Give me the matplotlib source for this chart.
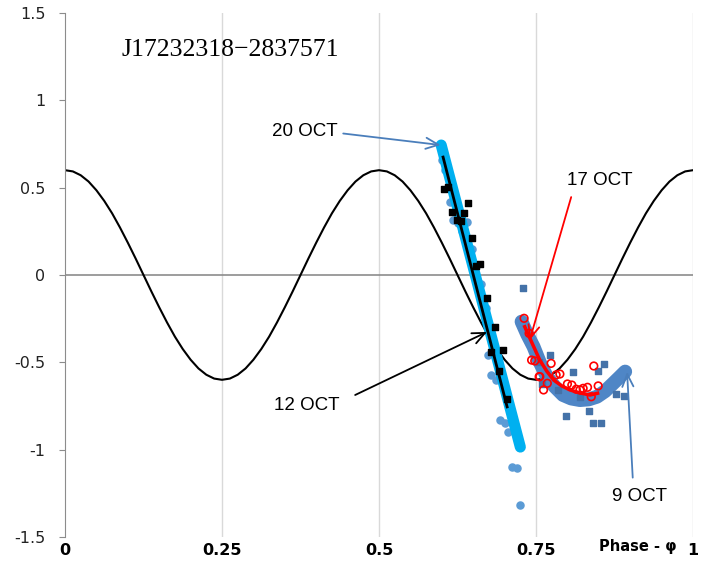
"""
plot.py — phase-folded light curve of J17232318-2837571, four observing nights
plus the reference sinusoid. Writes out.png (716x582).
"""
import numpy as np
import matplotlib
matplotlib.use("Agg")
import matplotlib.pyplot as plt
from matplotlib.transforms import blended_transform_factory

# ── reference sinusoid, sampled every 0.0125 in phase ──
sin_y = [0.600, 0.593, 0.571, 0.535, 0.485, 0.424, 0.353, 0.272, 0.185, 0.094,
         0.000, -0.094, -0.185, -0.272, -0.353, -0.424, -0.485, -0.535, -0.571, -0.593,
         -0.600, -0.593, -0.571, -0.535, -0.485, -0.424, -0.353, -0.272, -0.185, -0.094,
         0.000, 0.094, 0.185, 0.272, 0.353, 0.424, 0.485, 0.535, 0.571, 0.593,
         0.600, 0.593, 0.571, 0.535, 0.485, 0.424, 0.353, 0.272, 0.185, 0.094,
         0.000, -0.094, -0.185, -0.272, -0.353, -0.424, -0.485, -0.535, -0.571, -0.593,
         -0.600, -0.593, -0.571, -0.535, -0.485, -0.424, -0.353, -0.272, -0.185, -0.094,
         0.000, 0.094, 0.185, 0.272, 0.353, 0.424, 0.485, 0.535, 0.571, 0.593,
         0.600]
sin_x = np.linspace(0, 1, len(sin_y))

# ── 20 OCT: points + fitted line ──
oct20_x = [0.600, 0.601, 0.605, 0.610, 0.613, 0.618, 0.625, 0.632, 0.640, 0.648, 0.655,
           0.662, 0.671, 0.674, 0.679, 0.686, 0.693, 0.700, 0.705, 0.711, 0.719, 0.725]
oct20_y = [0.72, 0.66, 0.60, 0.50, 0.42, 0.315, 0.30, 0.25, 0.305, 0.15, 0.05,
           -0.05, -0.19, -0.458, -0.57, -0.60, -0.83, -0.85, -0.897, -1.097, -1.103, -1.317]
oct20_fit_x = [0.599, 0.725]
oct20_fit_y = [0.744, -0.985]

# ── 12 OCT: points + fitted line ──
oct12_x = [0.604, 0.610, 0.617, 0.624, 0.630, 0.635, 0.641, 0.648, 0.654, 0.661,
           0.672, 0.679, 0.685, 0.691, 0.698, 0.704]
oct12_y = [0.49, 0.505, 0.36, 0.315, 0.31, 0.357, 0.41, 0.214, 0.052, 0.061,
           -0.13, -0.44, -0.30, -0.55, -0.43, -0.71]
oct12_fit_x = [0.602, 0.704]
oct12_fit_y = [0.675, -0.755]

# ── 17 OCT: points + fitted curve ──
oct17_x = [0.731, 0.739, 0.743, 0.748, 0.755, 0.756, 0.762, 0.768, 0.774, 0.782, 0.788,
           0.800, 0.807, 0.814, 0.820, 0.825, 0.832, 0.838, 0.842, 0.849]
oct17_y = [-0.248, -0.334, -0.487, -0.492, -0.582, -0.582, -0.658, -0.62, -0.506, -0.572,
           -0.567, -0.624, -0.63, -0.654, -0.658, -0.649, -0.643, -0.697, -0.521, -0.635]
oct17_fit_x = [0.732, 0.745, 0.756, 0.767, 0.778, 0.791, 0.804, 0.820, 0.836, 0.848]
oct17_fit_y = [-0.296, -0.40, -0.487, -0.55, -0.601, -0.635, -0.658, -0.675, -0.687, -0.677]

# ── 9 OCT: points + fitted curve ──
oct09_x = [0.730, 0.760, 0.772, 0.798, 0.809, 0.834, 0.840, 0.848, 0.853, 0.859,
           0.877, 0.890, 0.755, 0.785, 0.820]
oct09_y = [-0.076, -0.624, -0.458, -0.807, -0.553, -0.777, -0.845, -0.548, -0.845, -0.509,
           -0.681, -0.693, -0.50, -0.66, -0.70]
oct09_fit_x = [0.727, 0.736, 0.746, 0.756, 0.767, 0.780, 0.793, 0.806, 0.820, 0.834,
               0.847, 0.860, 0.873, 0.883, 0.892]
oct09_fit_y = [-0.267, -0.34, -0.41, -0.50, -0.58, -0.64, -0.687, -0.707, -0.716, -0.712,
               -0.697, -0.665, -0.62, -0.585, -0.553]

# ── annotations: label, label position, arrow tail, arrow head ──
labels = ["20 OCT", "12 OCT", "17 OCT", "9 OCT"]
label_xy = [(0.382, 0.82), (0.385, -0.745), (0.852, 0.54), (0.914, -1.27)]
arrow_tail = [(0.443, 0.81), (0.462, -0.687), (0.806, 0.446), (0.904, -1.16)]
arrow_head = [(0.598, 0.744), (0.672, -0.326), (0.740, -0.372), (0.895, -0.555)]
arrow_col = ["#4a7ebb", "black", "red", "#4a7ebb"]

fig = plt.figure(figsize=(7.16, 5.82), dpi=100)
ax = fig.add_axes([0.0908, 0.0773, 0.8771, 0.9004])

ax.set_xlim(0, 1)
ax.set_ylim(-1.5, 1.5)
for gx in [0.25, 0.5, 0.75, 1.0]:
    ax.axvline(gx, color="#d9d9d9", lw=1, zorder=0)
ax.axhline(0, color="#8c8c8c", lw=1.2, zorder=1)

ax.plot(sin_x, sin_y, color="black", lw=1.5, zorder=2)

# 9 OCT
ax.plot(oct09_fit_x, oct09_fit_y, color="#4f86c6", lw=10, solid_capstyle="round", zorder=3)
ax.scatter(oct09_x, oct09_y, marker="s", s=20, color="#4472a8", zorder=4)
# 17 OCT
ax.scatter(oct17_x, oct17_y, marker="o", s=30, facecolors="none", edgecolors="red",
           linewidths=1.2, zorder=5)
ax.plot(oct17_fit_x, oct17_fit_y, color="red", lw=2.5, zorder=6)
# 20 OCT
ax.scatter(oct20_x, oct20_y, marker="o", s=26, color="#5b9bd5", zorder=3)
ax.plot(oct20_fit_x, oct20_fit_y, color="#00b0f0", lw=8, solid_capstyle="round", zorder=4)
# 12 OCT
ax.scatter(oct12_x, oct12_y, marker="s", s=17, color="black", zorder=5)
ax.plot(oct12_fit_x, oct12_fit_y, color="black", lw=2, zorder=6)

for lab, lxy, tail, head, c in zip(labels, label_xy, arrow_tail, arrow_head, arrow_col):
    ax.text(lxy[0], lxy[1], lab, fontsize=13.5, family="Liberation Sans",
            ha="center", va="center", zorder=8)
    ax.annotate("", xy=head, xytext=tail, zorder=7,
                arrowprops=dict(arrowstyle="->,head_length=0.9,head_width=0.4",
                                color=c, lw=1.3, shrinkA=0, shrinkB=0))

ax.text(0.263, 1.288, "J17232318\u22122837571", fontsize=18.5, family="Liberation Serif",
        ha="center", va="center")

# axes styling (Excel look: only left axis, labels at bottom)
for s in ["top", "right", "bottom"]:
    ax.spines[s].set_visible(False)
ax.spines["left"].set_color("#8c8c8c")
ax.set_yticks([-1.5, -1, -0.5, 0, 0.5, 1, 1.5])
ax.set_yticklabels(["-1.5", "-1", "-0.5", "0", "0.5", "1", "1.5"])
ax.tick_params(axis="y", direction="out", length=4, color="#8c8c8c", pad=10,
               labelsize=11.5, labelcolor="#222222")
ax.set_xticks([0, 0.25, 0.5, 0.75, 1])
ax.set_xticklabels(["0", "0.25", "0.5", "0.75", "1"], fontweight="bold")
ax.tick_params(axis="x", length=0, pad=4, labelsize=11.5)
tr = blended_transform_factory(ax.transData, ax.transAxes)
ax.text(0.912, -0.004, "Phase - \u03c6", transform=tr, fontsize=10.5, fontweight="bold",
        ha="center", va="top")

fig.savefig("out.png", dpi=100)
